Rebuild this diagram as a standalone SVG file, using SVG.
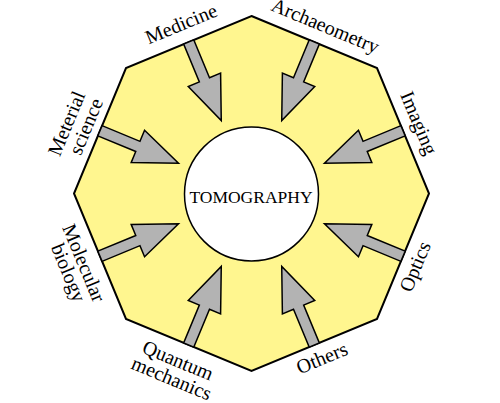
<svg xmlns="http://www.w3.org/2000/svg" width="500" height="403" viewBox="0 0 500 403">
<style>
.oct{fill:#fff68f;stroke:#000;stroke-width:2;stroke-linejoin:miter}
.arr{fill:#b3b3b3;stroke:#000;stroke-width:1.5;stroke-linejoin:miter}
.ctr{fill:#fff;stroke:#000;stroke-width:1.5}
text{font-family:"Liberation Serif","Times New Roman",serif;fill:#000}
.lbl{font-size:20px;text-anchor:middle}
.title{font-size:17.5px;text-anchor:middle}
</style>
<defs>
<path id="arrow" d="M-5.5,-164 L5.5,-164 L5.5,-123 L17.5,-123 L0,-79 L-17.5,-123 L-5.5,-123 Z"/>
</defs>
<polygon class="oct" points="251.5,16 377,68 429,193.5 377,319 251.5,371 126,319 74,193.5 126,68"/>
<g id="connectors" class="arr" transform="translate(251.5,193.5)">
<use href="#arrow" transform="rotate(-22.5)"/>
<use href="#arrow" transform="rotate(22.5)"/>
<use href="#arrow" transform="rotate(67.5)"/>
<use href="#arrow" transform="rotate(112.5)"/>
<use href="#arrow" transform="rotate(157.5)"/>
<use href="#arrow" transform="rotate(202.5)"/>
<use href="#arrow" transform="rotate(247.5)"/>
<use href="#arrow" transform="rotate(292.5)"/>
</g>
<g id="tomography">
<circle class="ctr" cx="251.5" cy="194" r="67"/>
<text class="title" x="251" y="203">TOMOGRAPHY</text>
</g>
<g id="medicine" transform="translate(188.7,42) rotate(-22.5)">
<text class="lbl" x="0" y="-13">Medicine</text>
</g>
<g id="archaeometry" transform="translate(314.3,42) rotate(22.5)">
<text class="lbl" x="4" y="-12.5">Archaeometry</text>
</g>
<g id="imaging" transform="translate(403,130.7) rotate(67.5)">
<text class="lbl" x="-1" y="-11">Imaging</text>
</g>
<g id="optics" transform="translate(403,256.3) rotate(-67.5)">
<text class="lbl" x="-5" y="21.7">Optics</text>
</g>
<g id="others" transform="translate(314.3,345) rotate(-22.5)">
<text class="lbl" x="2" y="21.7">Others</text>
</g>
<g id="quantum-mechanics" transform="translate(188.7,345) rotate(22.5)">
<text class="lbl" x="-4" y="25">Quantum</text>
<text class="lbl" x="-3" y="44">mechanics</text>
</g>
<g id="molecular-biology" transform="translate(100,256.3) rotate(67.5)">
<text class="lbl" x="0" y="24">Molecular</text>
<text class="lbl" x="3" y="42">biology</text>
</g>
<g id="meterial-science" transform="translate(100,130.7) rotate(-67.5)">
<text class="lbl" x="-6" y="-27">Meterial</text>
<text class="lbl" x="-1.5" y="-8">science</text>
</g>
</svg>
